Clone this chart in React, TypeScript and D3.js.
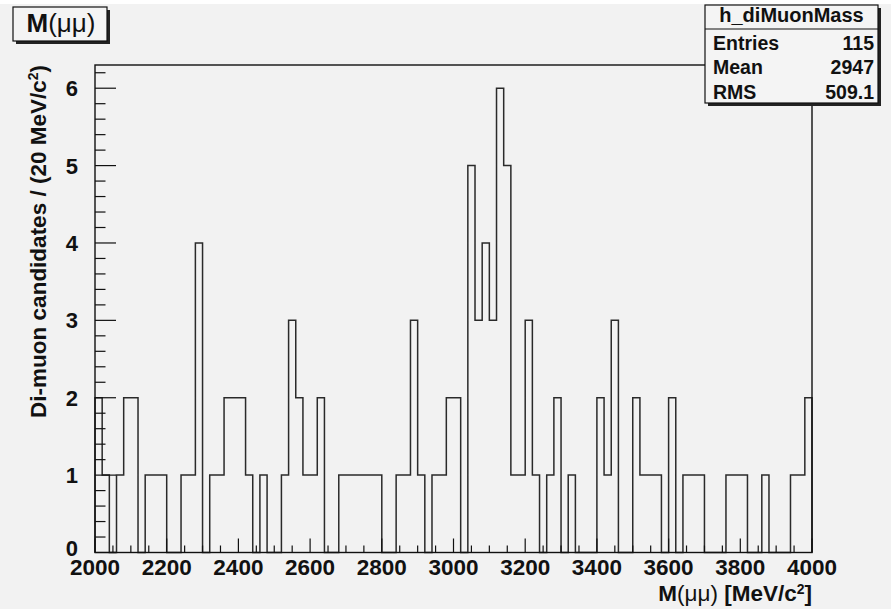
import React from "react";
import * as d3 from "d3";

// ---- data (histogram h_diMuonMass, 100 bins of 20 MeV from 2000 to 4000) ----
const xMin = 2000;
const xMax = 4000;
const binWidth = 20;
const counts: number[] = [
  2, 1, 0, 1, 2, 2, 0, 1, 1, 1,
  0, 0, 1, 1, 4, 0, 1, 1, 2, 2,
  2, 1, 0, 1, 0, 0, 1, 3, 2, 1,
  1, 2, 0, 0, 1, 1, 1, 1, 1, 1,
  0, 0, 1, 1, 3, 1, 0, 1, 1, 2,
  2, 0, 5, 3, 4, 3, 6, 5, 1, 1,
  3, 1, 0, 1, 2, 0, 1, 0, 0, 0,
  2, 1, 3, 0, 0, 2, 1, 1, 1, 0,
  2, 0, 1, 1, 1, 0, 0, 0, 1, 1,
  1, 0, 0, 1, 0, 0, 0, 1, 1, 2,
];
const yMax = 6.3;
const xMajorTicks = [2000, 2200, 2400, 2600, 2800, 3000, 3200, 3400, 3600, 3800, 4000];
const yMajorTicks = [0, 1, 2, 3, 4, 5, 6];
const statsTitle = "h_diMuonMass";
const statsLabels = ["Entries", "Mean", "RMS"];
const statsValues = ["115", "2947", "509.1"];

const W = 891;
const H = 609;
const FL = 95, FR = 812, FT = 65, FB = 552.5;
const FONT = "'Liberation Sans', Arial, Helvetica, sans-serif";

export default function App() {
  const x = d3.scaleLinear().domain([xMin, xMax]).range([FL, FR]);
  const y = d3.scaleLinear().domain([0, yMax]).range([FB, FT]);

  // step outline
  const p = d3.path();
  p.moveTo(x(xMin), y(0));
  counts.forEach((c, i) => {
    const x0 = xMin + i * binWidth;
    p.lineTo(x(x0), y(c));
    p.lineTo(x(x0 + binWidth), y(c));
  });
  p.lineTo(x(xMax), y(0));

  const xMinor = d3.range(xMin, xMax + 1, 50).filter((v) => v % 200 !== 0);
  const yMinor = d3.range(0, yMax + 1e-9, 0.2).filter((v) => Math.abs(v - Math.round(v)) > 1e-6);

  const boxX = 705, boxY = 5, boxW = 173, boxH = 98;

  return (
    <div style={{ position: "fixed", left: 0, top: 0, width: W, height: H }}>
      <svg width={W} height={H} style={{ display: "block" }} fontFamily={FONT}>
        <rect x={0} y={0} width={W} height={H} fill="#ffffff" />
        <rect x={0} y={4} width={W} height={H - 4} fill="#f2f2f2" />

        {/* histogram */}
        <path d={p.toString()} fill="none" stroke="#2a2a2a" strokeWidth={1.5} />

        {/* frame */}
        <rect x={FL} y={FT} width={FR - FL} height={FB - FT} fill="none" stroke="#111" strokeWidth={1.4} />

        {/* x ticks */}
        {xMajorTicks.map((v) => (
          <line key={"xM" + v} x1={x(v)} x2={x(v)} y1={FB} y2={FB - 14} stroke="#111" strokeWidth={1.2} />
        ))}
        {xMinor.map((v) => (
          <line key={"xm" + v} x1={x(v)} x2={x(v)} y1={FB} y2={FB - 7} stroke="#111" strokeWidth={1.2} />
        ))}
        {xMajorTicks.map((v) => (
          <text key={"xl" + v} x={x(v)} y={575} textAnchor="middle" fontSize={22.5} fontWeight="bold" fill="#111">
            {v}
          </text>
        ))}

        {/* y ticks */}
        {yMajorTicks.map((v) => (
          <line key={"yM" + v} x1={FL} x2={FL + 21} y1={y(v)} y2={y(v)} stroke="#111" strokeWidth={1.2} />
        ))}
        {yMinor.map((v) => (
          <line key={"ym" + v.toFixed(1)} x1={FL} x2={FL + 10.5} y1={y(v)} y2={y(v)} stroke="#111" strokeWidth={1.2} />
        ))}
        {yMajorTicks.map((v) => (
          <text
            key={"yl" + v}
            x={78}
            y={y(v) + (v === 0 ? 3.5 : 8)}
            textAnchor="end"
            fontSize={22}
            fontWeight="bold"
            fill="#111"
          >
            {v}
          </text>
        ))}

        {/* axis titles */}
        <text x={812} y={601} textAnchor="end" fontSize={22.5} fontWeight="bold" fill="#111">
          M<tspan fontWeight="normal">(μμ)</tspan> [MeV/c<tspan dy={-7.5} fontSize={14}>2</tspan><tspan dy={7.5}>]</tspan>
        </text>
        <text
          transform={`translate(46, ${FT}) rotate(-90)`}
          textAnchor="end"
          fontSize={22.5}
          fontWeight="bold"
          fill="#111"
        >
          Di-muon candidates / (20 MeV/c<tspan dy={-8} fontSize={14}>2</tspan><tspan dy={8}>)</tspan>
        </text>

        {/* title box */}
        <rect x={16} y={10} width={94} height={34} fill="#222" />
        <rect x={13} y={7} width={94} height={34} fill="#f4f4f4" stroke="#111" strokeWidth={1.2} />
        <text x={61} y={32} textAnchor="middle" fontSize={26} fontWeight="bold" fill="#111">
          M<tspan fontWeight="normal">(μμ)</tspan>
        </text>

        {/* stats box */}
        <rect x={boxX + 3} y={boxY + 3} width={boxW} height={boxH} fill="#222" />
        <rect x={boxX} y={boxY} width={boxW} height={boxH} fill="#f4f4f4" stroke="#111" strokeWidth={1.2} />
        <line x1={boxX} x2={boxX + boxW} y1={29} y2={29} stroke="#111" strokeWidth={1.2} />
        <text x={boxX + boxW / 2} y={22} textAnchor="middle" fontSize={20} fontWeight="bold" fill="#111">
          {statsTitle}
        </text>
        {statsLabels.map((l, i) => (
          <g key={l}>
            <text x={713} y={50 + i * 24.3} fontSize={19.5} fontWeight="bold" fill="#111">
              {l}
            </text>
            <text x={874} y={50 + i * 24.3} textAnchor="end" fontSize={19.5} fontWeight="bold" fill="#111">
              {statsValues[i]}
            </text>
          </g>
        ))}
      </svg>
    </div>
  );
}
